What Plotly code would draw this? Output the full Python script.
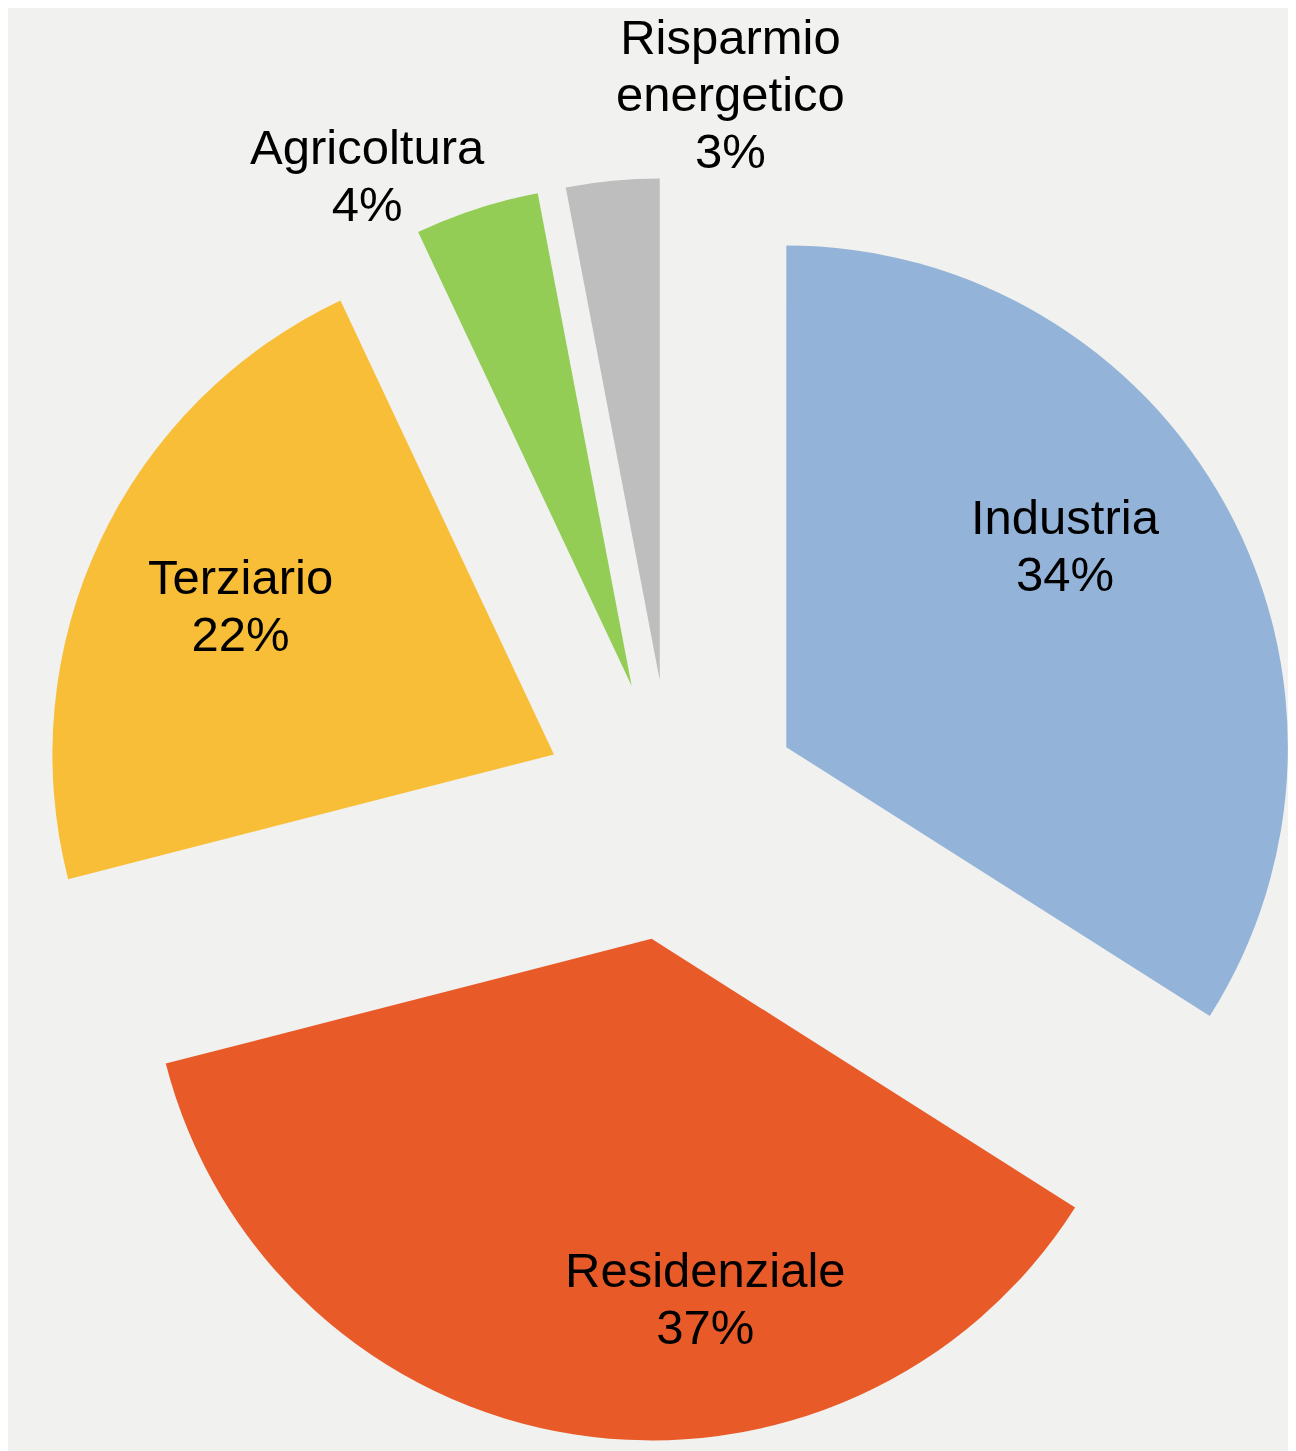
import plotly.graph_objects as go

# Sector shares (%)
sectors = ["Industria", "Residenziale", "Terziario", "Agricoltura", "Risparmio energetico"]
shares = [34, 37, 22, 4, 3]
colors = ["#94B3D8", "#E95A29", "#F8BE38", "#93CD56", "#BEBEBE"]

W, H = 1296, 1451

fig = go.Figure()

fig.add_trace(
    go.Pie(
        labels=sectors,
        values=shares,
        sort=False,
        direction="clockwise",
        rotation=0,
        pull=0.26,
        textinfo="none",
        marker=dict(colors=colors, line=dict(width=0)),
        domain=dict(x=[32 / W, 1], y=[1 - 1434 / H, 1 - 170 / H]),
        showlegend=False,
    )
)

# label anchors in pixels (centre of each text block)
label_pos = [(1057, 537), (697, 1290), (232, 597), (359, 167), (722, 86)]
label_lines = {"Risparmio energetico": "Risparmio<br>energetico"}

for name, val, (px, py) in zip(sectors, shares, label_pos):
    head = label_lines.get(name, name)
    lines = head.split("<br>") + [f"{val}%"]
    txt = "<br>".join(f"<span style='font-size:49px'>{ln}</span>" for ln in lines)
    fig.add_annotation(
        x=px / W, y=1 - py / H, xref="paper", yref="paper",
        text=txt, showarrow=False, align="center",
        xanchor="center", yanchor="middle",
        font=dict(family="Liberation Sans, Arial, sans-serif", size=44, color="black"),
    )

fig.update_layout(
    width=W,
    height=H,
    margin=dict(l=0, r=0, t=0, b=0),
    paper_bgcolor="#F1F1EF",
    plot_bgcolor="#F1F1EF",
)

fig.write_html("out.html")
